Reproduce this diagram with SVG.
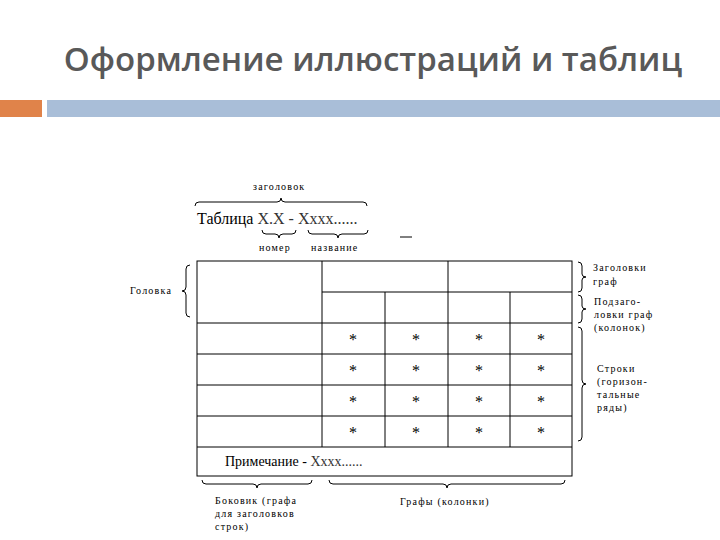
<svg xmlns="http://www.w3.org/2000/svg" width="720" height="540" viewBox="0 0 720 540">
<style>
.t{font-family:"Liberation Serif",serif;fill:#000}
.s{font-size:10px;letter-spacing:1.2px}
.ln{stroke:#000;stroke-width:1;fill:none}
.br{stroke:#000;stroke-width:1;fill:none}
.st{font-size:16px;text-anchor:middle}
</style>
<rect width="720" height="540" fill="#fff"/>
<text x="373" y="71" text-anchor="middle" font-family="Open Sans, sans-serif" font-weight="600" font-size="33" fill="#595959">Оформление иллюстраций и таблиц</text>
<rect x="0" y="100" width="42" height="17" fill="#e0834a"/>
<rect x="47" y="100" width="673" height="17" fill="#a9bed8"/>
<g id="title">
<text class="t s" x="253" y="190">заголовок</text>
<path class="br" d="M195,206 q0,-4 4,-4 h78 q4,0 4,-4 q0,4 4,4 h78 q4,0 4,4"/>
<text class="t" x="197" y="224" font-size="16">Таблица <tspan fill="#333">Х.Х - Хххх......</tspan></text>
<path class="br" d="M262,230 q0,4 4,4 h9 q4,0 4,4 q0,-4 4,-4 h9 q4,0 4,-4"/>
<path class="br" d="M308,230 q0,4 4,4 h22 q4,0 4,4 q0,-4 4,-4 h22 q4,0 4,-4"/>
<text class="t s" x="259" y="251">номер</text>
<text class="t s" x="311" y="251">название</text>
<line class="ln" x1="400" y1="237" x2="412" y2="237"/>
</g>
<g id="table">
<rect class="ln" x="197" y="261" width="375" height="215"/>
<path class="ln" d="M322,261V447M448,261V292M385,292V447M448,292V447M510,292V447M322,292H572M197,323H572M197,354H572M197,385H572M197,416H572M197,447H572"/>
<g class="t st">
<text x="353" y="345">*</text><text x="416" y="345">*</text><text x="479" y="345">*</text><text x="541" y="345">*</text>
<text x="353" y="376">*</text><text x="416" y="376">*</text><text x="479" y="376">*</text><text x="541" y="376">*</text>
<text x="353" y="407">*</text><text x="416" y="407">*</text><text x="479" y="407">*</text><text x="541" y="407">*</text>
<text x="353" y="438">*</text><text x="416" y="438">*</text><text x="479" y="438">*</text><text x="541" y="438">*</text>
</g>
<text class="t" x="225" y="466" font-size="14">Примечание - <tspan fill="#333">Хххх......</tspan></text>
</g>
<g id="labels">
<path class="br" d="M190,265 q-4,0 -4,4 v18 q0,4 -4,4 q4,0 4,4 v18 q0,4 4,4"/>
<text class="t s" x="130" y="294">Головка</text>
<path class="br" d="M578,262 q4,0 4,4 v8 q0,3 4,3 q-4,0 -4,3 v8 q0,4 -4,4"/>
<path class="br" d="M578,295 q4,0 4,4 v7 q0,3 4,3 q-4,0 -4,3 v7 q0,4 -4,4"/>
<path class="br" d="M578,327 q4,0 4,4 v49 q0,4 4,4 q-4,0 -4,4 v49 q0,4 -4,4"/>
<text class="t s" x="593" y="271">Заголовки</text>
<text class="t s" x="593" y="285">граф</text>
<text class="t s" x="594" y="305">Подзаго-</text>
<text class="t s" x="594" y="318">ловки граф</text>
<text class="t s" x="594" y="331">(колонок)</text>
<text class="t s" x="597" y="372">Строки</text>
<text class="t s" x="597" y="385">(горизон-</text>
<text class="t s" x="597" y="398">тальные</text>
<text class="t s" x="597" y="411">ряды)</text>
<path class="br" d="M202,480 q0,4 4,4 h47 q4,0 4,4 q0,-4 4,-4 h47 q4,0 4,-4"/>
<path class="br" d="M329,480 q0,4 4,4 h110 q4,0 4,4 q0,-4 4,-4 h110 q4,0 4,-4"/>
<text class="t s" x="215" y="504">Боковик (графа</text>
<text class="t s" x="215" y="517">для заголовков</text>
<text class="t s" x="215" y="530">строк)</text>
<text class="t s" x="400" y="505">Графы (колонки)</text>
</g>
</svg>
